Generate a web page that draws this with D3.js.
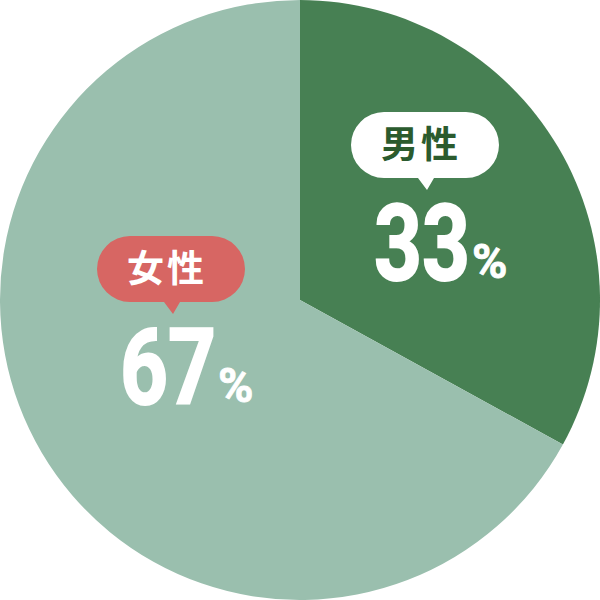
<!DOCTYPE html>
<html>
<head>
<meta charset="utf-8">
<script src="https://cdn.jsdelivr.net/npm/d3@7"></script>
<style>
  html, body { margin: 0; padding: 0; background: #fff; }
</style>
</head>
<body>
<div id="pie-container"></div>
<script>
// data
var categories = ['男性', '女性'];
var shares = [33, 67];
var unitLabel = '%';

// look
var sliceColors = ['#478053', '#9abfae'];
var bubbleFill = ['#ffffff', '#d76663'];
var bubbleText = ['#2b5b2e', '#ffffff'];
// label anchor (bubble centre) for each slice
var labelPos = [[425, 145], [171, 269]];

function drawChart() {
  const width = 600, height = 600;
  const radius = 300;

  d3.select('#pie-container').select('svg').remove();

  const svg = d3.select('#pie-container')
    .append('svg')
    .attr('width', width)
    .attr('height', height);

  const dataArr = categories.map((c, i) => ({ name: c, value: shares[i], i: i }));

  const pie = d3.pie()
    .value(d => d.value)
    .sort(null);

  const arc = d3.arc()
    .innerRadius(0)
    .outerRadius(radius);

  const g = svg.append('g')
    .attr('transform', `translate(${width / 2}, ${height / 2})`);

  g.selectAll('path.slice')
    .data(pie(dataArr))
    .enter()
    .append('path')
      .attr('class', 'slice')
      .attr('d', arc)
      .attr('fill', d => sliceColors[d.data.i]);

  // labels
  const labels = svg.selectAll('g.label')
    .data(dataArr)
    .enter()
    .append('g')
      .attr('class', 'label')
      .attr('transform', d => `translate(${labelPos[d.i][0]}, ${labelPos[d.i][1]})`);

  // speech bubble: pill + pointer
  const bw = 148, bh = 66, r = bh / 2;
  labels.append('path')
    .attr('d', function() {
      const x0 = -bw / 2, y0 = -bh / 2;
      const p = d3.path();
      p.moveTo(x0 + r, y0);
      p.lineTo(x0 + bw - r, y0);
      p.arc(x0 + bw - r, 0, r, -Math.PI / 2, Math.PI / 2);
      p.lineTo(9, r);
      p.lineTo(2, r + 12);
      p.lineTo(-7, r);
      p.lineTo(x0 + r, r);
      p.arc(x0 + r, 0, r, Math.PI / 2, Math.PI * 1.5);
      p.closePath();
      return p.toString();
    })
    .attr('fill', d => bubbleFill[d.i]);

  labels.append('text')
    .attr('x', -4)
    .attr('y', 0)
    .attr('dy', '0.36em')
    .attr('text-anchor', 'middle')
    .style('font-family', '"Noto Sans CJK JP", sans-serif')
    .style('font-weight', 700)
    .style('font-size', '37px')
    .style('letter-spacing', '3px')
    .style('fill', d => bubbleText[d.i])
    .text(d => d.name);

  // percentage numbers
  const num = labels.append('g')
    .attr('transform', 'translate(-51, 135) scale(0.79, 1)');

  num.append('text')
    .attr('x', 0)
    .attr('y', 0)
    .style('font-family', 'Roboto, sans-serif')
    .style('font-weight', 700)
    .style('font-size', '106px')
    .style('fill', '#ffffff')
    .style('stroke', '#ffffff')
    .style('stroke-width', 2)
    .text(d => d.value);

  labels.append('text')
    .attr('x', 47)
    .attr('y', 133)
    .style('font-family', 'Roboto, sans-serif')
    .style('font-weight', 700)
    .style('font-size', '48px')
    .style('fill', '#ffffff')
    .style('stroke', '#ffffff')
    .style('stroke-width', 0.8)
    .text(unitLabel);
}

drawChart();
</script>
</body>
</html>
